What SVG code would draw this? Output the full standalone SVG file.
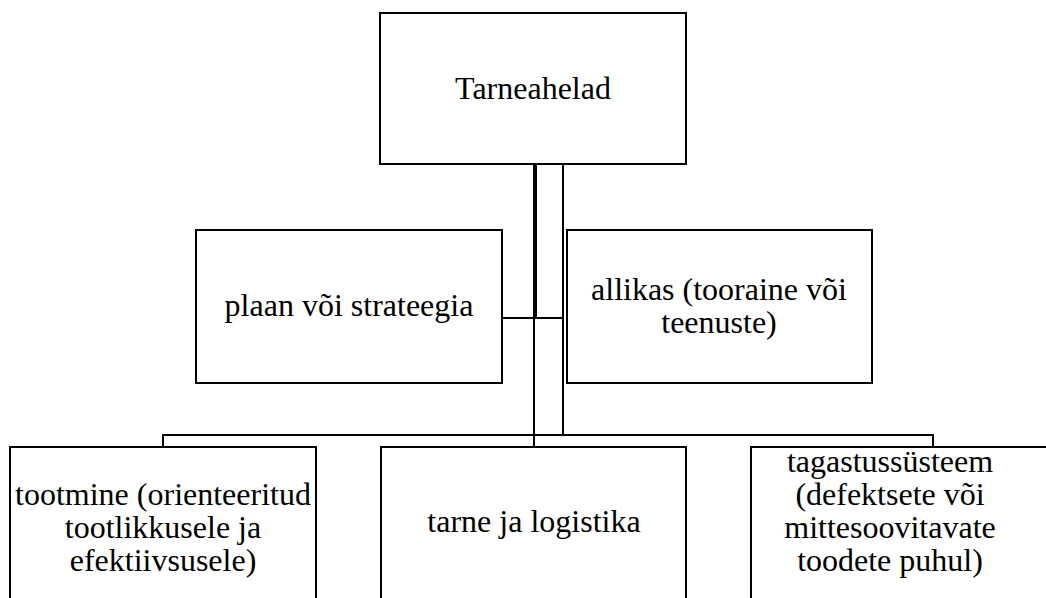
<svg xmlns="http://www.w3.org/2000/svg" width="1046" height="598" viewBox="0 0 1046 598">
<style>
.box{fill:#fff;stroke:#000;stroke-width:2}
.ln{fill:none;stroke:#000;stroke-width:2}
.t{font-family:'Liberation Serif','DejaVu Serif',serif;font-size:32px;fill:#000;text-anchor:middle}
</style>
<rect width="1046" height="598" fill="#fff"/>
<g id="connectors">
<line class="ln" x1="535" y1="164" x2="535" y2="318" style="stroke-width:4"/>
<line class="ln" x1="563" y1="164" x2="563" y2="435"/>
<line class="ln" x1="502" y1="318" x2="563" y2="318"/>
<line class="ln" x1="534" y1="318" x2="534" y2="447"/>
<polyline class="ln" points="163,447 163,435 933,435 933,447"/>
</g>
<g id="n-top">
<rect class="box" x="380" y="13" width="306" height="151"/>
<text class="t" x="533" y="99">Tarneahelad</text>
</g>
<g id="n-plaan">
<rect class="box" x="196" y="230" width="306" height="153"/>
<text class="t" x="349" y="316">plaan või strateegia</text>
</g>
<g id="n-allikas">
<rect class="box" x="567" y="230" width="305" height="153"/>
<text class="t" x="719" y="300">allikas (tooraine või</text>
<text class="t" x="719" y="333">teenuste)</text>
</g>
<g id="n-tootmine">
<rect class="box" x="10" y="447" width="306" height="160"/>
<text class="t" x="163" y="505">tootmine (orienteeritud</text>
<text class="t" x="163" y="538">tootlikkusele ja</text>
<text class="t" x="163" y="571">efektiivsusele)</text>
</g>
<g id="n-tarne">
<rect class="box" x="381" y="447" width="305" height="160"/>
<text class="t" x="534" y="532">tarne ja logistika</text>
</g>
<g id="n-tagastus">
<rect class="box" x="751" y="447" width="306" height="160"/>
<text class="t" x="890" y="472">tagastussüsteem</text>
<text class="t" x="890" y="505">(defektsete või</text>
<text class="t" x="890" y="538">mittesoovitavate</text>
<text class="t" x="890" y="571">toodete puhul)</text>
</g>
</svg>
